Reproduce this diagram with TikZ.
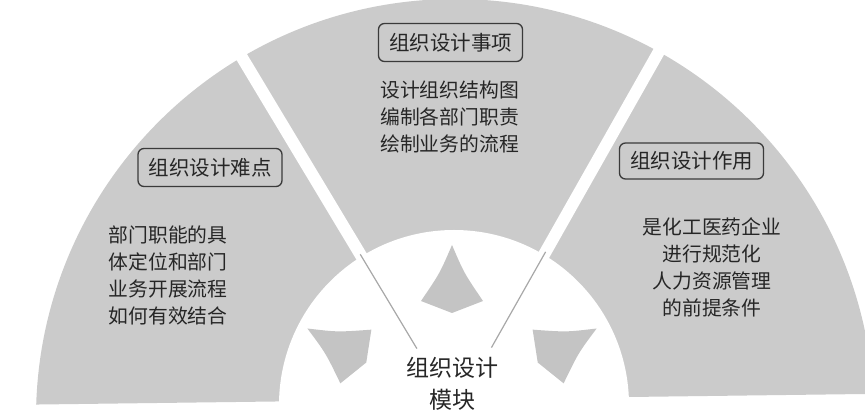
\documentclass[tikz,border=0pt]{standalone}
\usepackage{fontspec}
\setmainfont{Noto Sans CJK SC}
\definecolor{fangray}{HTML}{CBCBCB}
\definecolor{arrowgray}{HTML}{C4C4C4}
\definecolor{seamgray}{HTML}{A8A8A8}
\definecolor{inkgray}{HTML}{262626}
\definecolor{boxline}{HTML}{3A3A3A}
\begin{document}
\begin{tikzpicture}[x=1pt,y=1pt,
  titlebox/.style={draw=boxline, line width=1.3pt, rounded corners=6pt,
    minimum width=144pt, minimum height=38pt, inner sep=0pt,
    text=inkgray, font={\fontsize{20.5}{24}\selectfont}},
  bodytext/.style={text=inkgray, align=center, inner sep=0pt,
    font={\fontsize{19.8}{27}\selectfont}},
  hubtext/.style={text=inkgray, align=center, inner sep=0pt,
    font={\fontsize{23}{32}\selectfont}},
  dart/.style={fill=arrowgray}]
\useasboundingbox (0,0) rectangle (865,412);
% outer fan
\begin{scope}
  \clip (0,7) -- (865,18) -- (865,412) -- (0,412) -- cycle;
  \fill[fangray] (455,-6) circle (419);
\end{scope}
% white gaps between the three sectors
\draw[white, line width=12pt] (455,0) -- ++(121:450);
\draw[white, line width=12pt] (455,0) -- ++(60.5:450);
% inner white half disc
\begin{scope}
  \clip (0,0) rectangle (865,412);
  \fill[white] (454,7) circle (175);
\end{scope}
% thin seams inside the white disc
\draw[seamgray, line width=1.2pt] (455,0) ++(121:74) -- ++(121:110);
\draw[seamgray, line width=1.2pt] (455,0) ++(60.5:74) -- ++(60.5:110);
% three darts pointing to the centre
\foreach \a in {150,90,30} {
  \begin{scope}[shift={(452,0)}, rotate=\a]
    \fill[dart] (167,0) .. controls (139,12) .. (111,31) -- (99,0)
      -- (111,-31) .. controls (139,-12) .. (167,0) -- cycle;
  \end{scope}
}
% titles
\node[titlebox] (tmid) at (450.5,369.5) {组织设计事项};
\node[titlebox] (tleft) at (210,244.5) {组织设计难点};
\node[titlebox, minimum height=36pt] (tright) at (691.5,251) {组织设计作用};
% bodies
\node[bodytext] (bmid) at (449.5,295) {设计组织结构图\\编制各部门职责\\绘制业务的流程};
\node[bodytext] (bleft) at (168,137) {部门职能的具\\体定位和部门\\业务开展流程\\如何有效结合};
\node[bodytext] (bright) at (712,144.5) {是化工医药企业\\进行规范化\\人力资源管理\\的前提条件};
% hub
\node[hubtext] (hub) at (452,28) {组织设计\\模块};
\end{tikzpicture}
\end{document}
